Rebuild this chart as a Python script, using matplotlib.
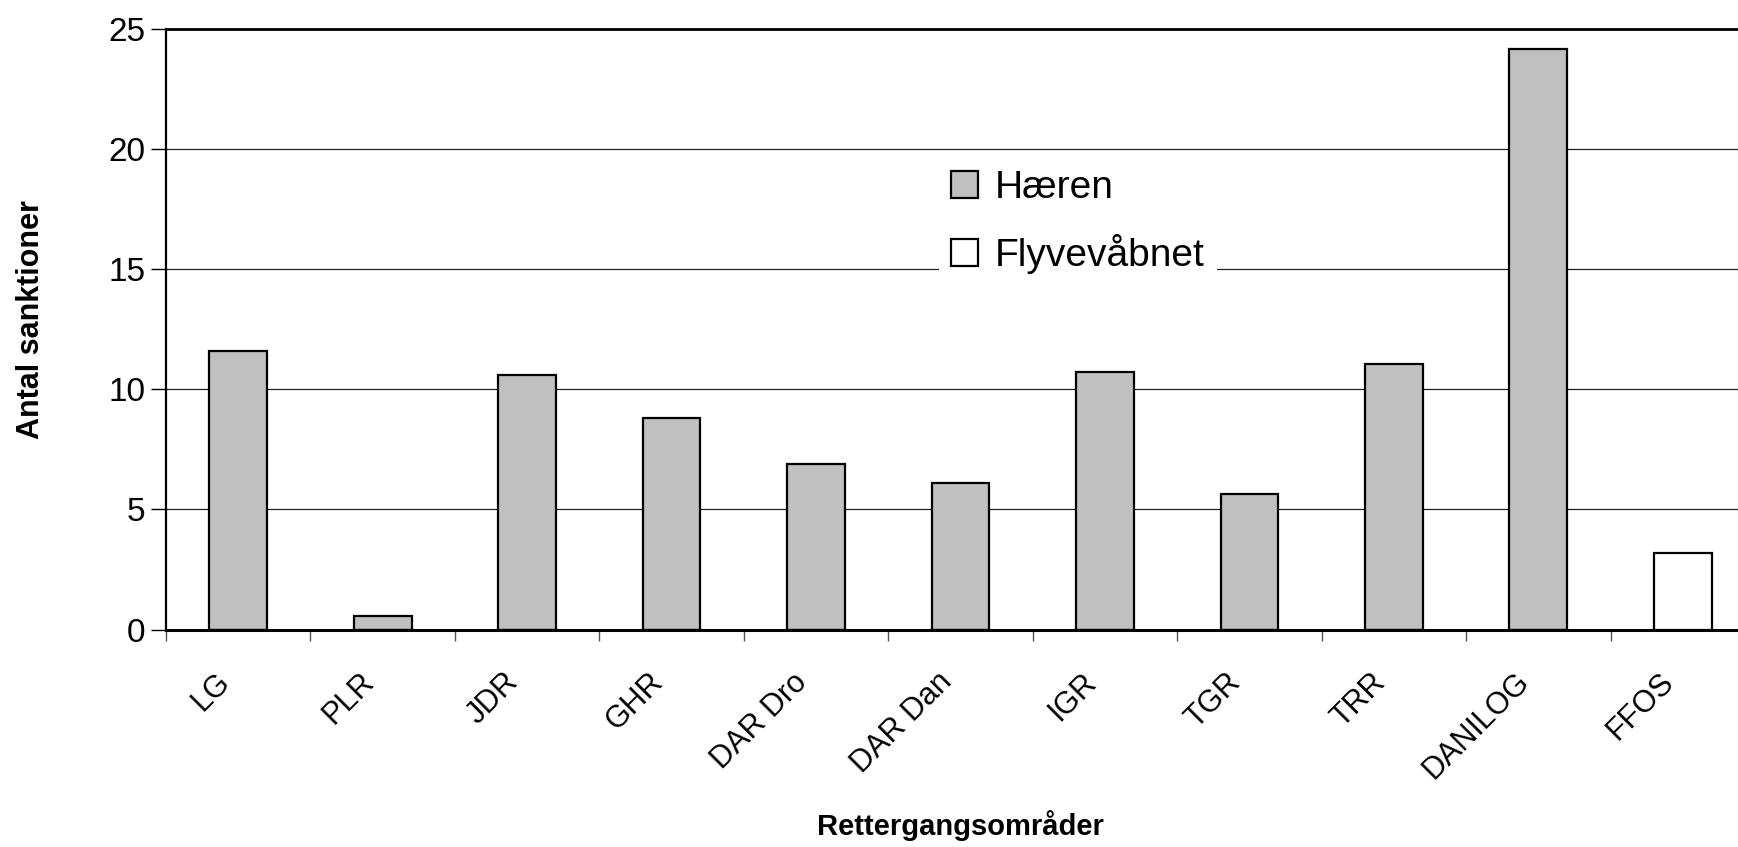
import numpy as np
import matplotlib
matplotlib.use("Agg")
import matplotlib.pyplot as plt
from matplotlib.transforms import ScaledTranslation

plt.rcParams['font.family'] = ['Liberation Sans', 'DejaVu Sans']

categories = ['LG', 'PLR', 'JDR', 'GHR', 'DAR Dro', 'DAR Dan', 'IGR', 'TGR', 'TRR', 'DANILOG', 'FFOS']
haeren = [11.6, 0.55, 10.6, 8.8, 6.9, 6.1, 10.7, 5.65, 11.05, 24.15, 0]
flyvevaabnet = [0, 0, 0, 0, 0, 0, 0, 0, 0, 0, 3.2]

fig = plt.figure(figsize=(17.38, 8.47), dpi=100)
# plot area runs a little past the right edge of the picture, as in the original
ax = fig.add_axes([166/1738, 1 - 629.5/847, (1755 - 166)/1738, 600.5/847])

x = np.arange(len(categories))
ax.bar(x, haeren, width=0.4, color='#c0c0c0', edgecolor='black', linewidth=1.6, label='Hæren', zorder=3)
ax.bar(x, flyvevaabnet, width=0.4, color='white', edgecolor='black', linewidth=1.6, label='Flyvevåbnet', zorder=3)

ax.set_xlim(-0.5, len(categories) - 0.5)
ax.set_ylim(0, 25)
ax.set_yticks([0, 5, 10, 15, 20, 25])
ax.yaxis.grid(True, color='#202020', linewidth=0.9)
ax.set_axisbelow(True)

ax.set_xticks(x)
ax.set_xticklabels(categories, rotation=45, ha='right', va='top', rotation_mode='anchor', fontsize=22)
ax.set_xticks(np.arange(-0.5, len(categories)), minor=True)
ax.tick_params(axis='x', which='major', length=0, pad=27)
ax.tick_params(axis='x', which='minor', length=8, width=1, color='#555555')
ax.tick_params(axis='y', length=11, width=1, labelsize=24, pad=4)

# nudge the rotated labels a little to the left
shift = ScaledTranslation(-17/72, 0, fig.dpi_scale_trans)
for lab in ax.get_xticklabels():
    lab.set_transform(lab.get_transform() + shift)

for side in ['top', 'left', 'bottom', 'right']:
    ax.spines[side].set_color('black')
ax.spines['top'].set_linewidth(2)
ax.spines['left'].set_linewidth(1.6)
ax.spines['bottom'].set_linewidth(2.2)

fig.text(31/1738, 1 - 320/847, 'Antal sanktioner', rotation=90, ha='center', va='center',
         fontsize=22, fontweight='bold')
fig.text(960/1738, 1 - 826/847, 'Rettergangsområder', ha='center', va='center',
         fontsize=21, fontweight='bold')

leg = ax.legend(loc='center', bbox_to_anchor=(1078/1738, 1 - 222/847), bbox_transform=fig.transFigure,
                fontsize=28, frameon=True, fancybox=False, edgecolor='none', facecolor='white', framealpha=1,
                handlelength=0.68, handleheight=0.68, handletextpad=0.45, labelspacing=0.72, borderpad=0.3)

fig.savefig('out.png', dpi=100)
